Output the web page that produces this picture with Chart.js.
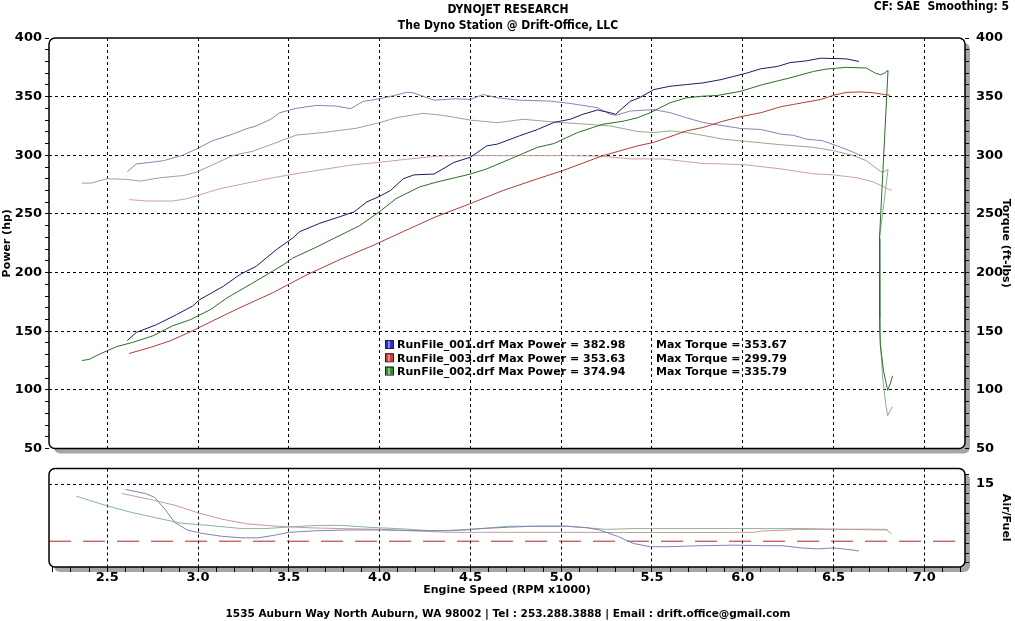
<!DOCTYPE html>
<html>
<head>
<meta charset="utf-8">
<script src="https://cdn.jsdelivr.net/npm/chart.js@4.4.1/dist/chart.umd.min.js"></script>
<style>
  html, body { margin: 0; padding: 0; background: #fff; }
  #wrap { position: relative; width: 1015px; height: 621px; overflow: hidden; }
  #powerChart { position: absolute; left: 0; top: 0; }
  #afrChart { position: absolute; left: 0; top: 455px; }
</style>
</head>
<body>
<div id="wrap">
  <canvas id="powerChart" width="1015" height="462"></canvas>
  <canvas id="afrChart" width="1015" height="166"></canvas>
</div>
<script>
// ---- data (rpm x1000) ----
const runNames = ['RunFile_001.drf', 'RunFile_003.drf', 'RunFile_002.drf'];
const maxPower = [382.98, 353.63, 374.94];
const maxTorque = [353.67, 299.79, 335.79];

const run001PowerRpm = [2.61, 2.66, 2.77, 2.88, 2.97, 3.01, 3.14, 3.23, 3.32, 3.43, 3.52, 3.56, 3.67, 3.78, 3.86, 3.93, 4.00, 4.06, 4.13, 4.19, 4.30, 4.41, 4.50, 4.59, 4.65, 4.77, 4.87, 4.96, 5.05, 5.12, 5.20, 5.27, 5.30, 5.38, 5.43, 5.51, 5.60, 5.69, 5.78, 5.88, 5.93, 6.02, 6.10, 6.19, 6.26, 6.35, 6.43, 6.50, 6.57, 6.64];
const run001Power    = [142, 149, 155.5, 164, 171.5, 177, 188.4, 198.3, 205.3, 219.4, 229.3, 234.9, 242, 247.6, 251.8, 260.3, 265, 270, 280, 283.3, 284, 294, 298.3, 308, 309.6, 316.6, 322, 328, 330.7, 335, 338.6, 336.3, 335, 346, 349, 356, 358.9, 360.3, 361.7, 364.5, 366.5, 370, 373.8, 375.7, 379, 380.5, 382.8, 382.5, 382.2, 380];

const run003PowerRpm = [2.62, 2.74, 2.85, 2.97, 3.08, 3.23, 3.41, 3.60, 3.78, 3.97, 4.13, 4.31, 4.50, 4.68, 4.87, 5.01, 5.23, 5.42, 5.51, 5.69, 5.78, 5.89, 5.99, 6.10, 6.21, 6.28, 6.43, 6.50, 6.57, 6.65, 6.72, 6.78, 6.81];
const run003Power    = [131, 136.3, 142, 150.4, 158.8, 170, 182.7, 198.2, 211, 223.6, 235, 247.6, 258.8, 270, 280, 287, 299.7, 308, 311, 320.8, 323.7, 329, 333, 336.3, 341.4, 343.4, 347.6, 351.2, 353.6, 354, 353.3, 351.8, 351.2];

const run002PowerRpm = [2.36, 2.40, 2.46, 2.55, 2.64, 2.75, 2.86, 2.96, 3.07, 3.16, 3.30, 3.47, 3.52, 3.64, 3.75, 3.89, 4.00, 4.09, 4.22, 4.31, 4.50, 4.59, 4.72, 4.87, 4.96, 5.09, 5.23, 5.34, 5.42, 5.49, 5.60, 5.69, 5.78, 5.86, 5.99, 6.11, 6.26, 6.39, 6.46, 6.57, 6.68, 6.73, 6.76, 6.78, 6.80, 6.753, 6.753, 6.755, 6.757, 6.775, 6.798, 6.812, 6.825];
const run002Power    = [125, 126, 130.6, 136.8, 140.5, 146, 154.6, 160, 168.6, 178.5, 191, 206.7, 212.3, 220.8, 229.3, 240, 252, 263, 273, 277, 284, 288.4, 296.9, 306.8, 310, 319.4, 326.5, 329, 332, 336.3, 344.8, 349, 350.4, 351, 354.6, 360.3, 366, 371.5, 373.5, 375, 374.4, 370, 368.7, 370, 372.4, 229, 184, 161.6, 139, 116.5, 99.6, 105, 112];

const run001TorqueRpm = [2.61, 2.66, 2.74, 2.81, 2.92, 2.99, 3.08, 3.19, 3.27, 3.32, 3.40, 3.45, 3.54, 3.65, 3.76, 3.84, 3.91, 3.98, 4.06, 4.15, 4.18, 4.30, 4.42, 4.50, 4.57, 4.65, 4.77, 4.94, 5.05, 5.20, 5.27, 5.30, 5.38, 5.51, 5.60, 5.69, 5.78, 5.84, 5.99, 6.10, 6.21, 6.28, 6.35, 6.44, 6.52, 6.59, 6.65];
const run001Torque    = [286, 292.6, 294, 295.4, 300.3, 305.3, 312.4, 318, 322.8, 325, 330.7, 336.3, 340, 342.5, 342, 339.7, 346, 347.6, 350.2, 353.7, 353.5, 347, 348.2, 347.6, 351.8, 349, 347, 346.2, 344.2, 340.6, 335, 334, 337.7, 339, 336.3, 332, 328, 326.5, 322.8, 322, 318, 317, 313.8, 312.4, 308, 303.9, 299.7];

const run003TorqueRpm = [2.62, 2.72, 2.86, 2.94, 3.01, 3.12, 3.27, 3.41, 3.56, 3.71, 3.85, 4.00, 4.13, 4.31, 4.50, 4.68, 4.87, 5.05, 5.23, 5.38, 5.56, 5.69, 5.78, 5.89, 6.02, 6.21, 6.39, 6.50, 6.63, 6.72, 6.82];
const run003Torque    = [262.2, 261, 261, 263, 266.4, 271.5, 276.3, 280.8, 284.8, 288.4, 291.8, 294, 296.3, 299.2, 299.7, 299.7, 299.7, 299.7, 299.2, 296.9, 296.9, 294.6, 293, 292.6, 291.8, 288.4, 284.2, 283.3, 280.8, 277.2, 270];

const run002TorqueRpm = [2.36, 2.41, 2.50, 2.61, 2.68, 2.79, 2.92, 2.99, 3.08, 3.19, 3.30, 3.41, 3.54, 3.69, 3.87, 4.00, 4.09, 4.24, 4.35, 4.50, 4.65, 4.79, 4.96, 5.14, 5.27, 5.42, 5.51, 5.60, 5.69, 5.78, 5.89, 6.02, 6.21, 6.39, 6.50, 6.61, 6.68, 6.76, 6.78, 6.80, 6.753, 6.755, 6.770, 6.787, 6.798, 6.823];
const run002Torque    = [276.3, 276.3, 280, 279.4, 278, 280.8, 282.8, 285.6, 291.8, 299.7, 303.4, 309.6, 317.2, 319.4, 323, 327.8, 332, 335.8, 334, 330, 327.8, 330.7, 328.4, 326.5, 325, 320.3, 319.4, 320.8, 319.4, 317, 313.8, 311.8, 309, 306.8, 303.9, 299.7, 295.5, 286, 286, 288, 229, 150, 111, 88.4, 78, 85.5];

const run001AfrRpm = [2.60, 2.71, 2.76, 2.82, 2.87, 2.94, 3.02, 3.13, 3.24, 3.33, 3.42, 3.50, 3.65, 3.83, 4.01, 4.19, 4.38, 4.56, 4.71, 4.85, 5.03, 5.14, 5.21, 5.31, 5.40, 5.49, 5.58, 5.77, 5.95, 6.13, 6.22, 6.32, 6.41, 6.50, 6.59, 6.64];
const run001Afr    = [14.73, 14.52, 14.33, 13.70, 13.06, 12.67, 12.50, 12.35, 12.27, 12.27, 12.40, 12.55, 12.63, 12.67, 12.67, 12.63, 12.63, 12.74, 12.81, 12.86, 12.86, 12.79, 12.67, 12.35, 11.98, 11.82, 11.82, 11.87, 11.90, 11.87, 11.87, 11.76, 11.71, 11.76, 11.67, 11.60];

const run003AfrRpm = [2.58, 2.72, 2.87, 3.00, 3.13, 3.27, 3.42, 3.61, 3.79, 4.01, 4.19, 4.38, 4.56, 4.71, 5.00, 5.40, 5.77, 6.06, 6.11, 6.26, 6.30, 6.50, 6.80];
const run003Afr    = [14.52, 14.25, 13.93, 13.54, 13.22, 12.98, 12.87, 12.78, 12.74, 12.70, 12.63, 12.55, 12.55, 12.55, 12.55, 12.54, 12.54, 12.55, 12.62, 12.67, 12.70, 12.70, 12.67];

const run002AfrRpm = [2.33, 2.50, 2.63, 2.76, 2.91, 3.06, 3.24, 3.37, 3.50, 3.65, 3.79, 3.97, 4.10, 4.29, 4.47, 4.62, 4.71, 4.85, 5.03, 5.14, 5.25, 5.40, 5.58, 5.77, 5.95, 6.13, 6.32, 6.50, 6.68, 6.79, 6.82];
const run002Afr    = [14.38, 13.89, 13.57, 13.30, 13.01, 12.90, 12.74, 12.74, 12.82, 12.90, 12.90, 12.79, 12.74, 12.63, 12.67, 12.79, 12.86, 12.86, 12.86, 12.78, 12.70, 12.74, 12.74, 12.74, 12.74, 12.74, 12.74, 12.71, 12.71, 12.70, 12.46];

const afrTarget = 12.1;

// axes
const rpmMin = 2.179, rpmMax = 7.224;
const rpmLabels = [2.5, 3.0, 3.5, 4.0, 4.5, 5.0, 5.5, 6.0, 6.5, 7.0];
const powerLabels = [50, 100, 150, 200, 250, 300, 350, 400];
const afrMin = 10.79, afrMax = 15.79;
const afrLabels = [15];

const pairs = (xs, ys) => xs.map((x, i) => ({ x: x, y: ys[i] }));
const near = (a, b) => Math.abs(a - b) < 1e-6;
const isLabelRpm = (v) => rpmLabels.some((r) => near(r, v));

// evenly spaced tick positions inside [lo, hi]
function stepTicks(lo, hi, step) {
  const out = [];
  for (let k = Math.ceil(lo / step - 1e-9); k * step <= hi + 1e-9; k++) {
    out.push({ value: Math.round(k * step * 1000) / 1000 });
  }
  return out;
}

Chart.defaults.font.family = '"DejaVu Sans", Verdana, sans-serif';
Chart.defaults.color = '#000';

const tickFont = { family: '"DejaVu Sans", Verdana, sans-serif', size: 13, weight: 'bold', lineHeight: 1 };
const titleFont = { family: '"DejaVu Sans", Verdana, sans-serif', size: 11, weight: 'bold' };

function roundedRect(ctx, x, y, w, h, r) {
  ctx.beginPath();
  ctx.moveTo(x + r, y);
  ctx.lineTo(x + w - r, y);
  ctx.arcTo(x + w, y, x + w, y + r, r);
  ctx.lineTo(x + w, y + h - r);
  ctx.arcTo(x + w, y + h, x + w - r, y + h, r);
  ctx.lineTo(x + r, y + h);
  ctx.arcTo(x, y + h, x, y + h - r, r);
  ctx.lineTo(x, y + r);
  ctx.arcTo(x, y, x + r, y, r);
  ctx.closePath();
}

// white panel with grey drop shadow and rounded black frame
const panelFrame = {
  id: 'panelFrame',
  beforeDraw(chart) {
    const { ctx, chartArea: a } = chart;
    ctx.save();
    ctx.fillStyle = '#a6a6a6';
    roundedRect(ctx, a.left + 5, a.top + 5, a.right - a.left, a.bottom - a.top, 6);
    ctx.fill();
    ctx.fillStyle = '#fff';
    roundedRect(ctx, a.left, a.top, a.right - a.left, a.bottom - a.top, 6);
    ctx.fill();
    ctx.restore();
  },
  afterDraw(chart) {
    const { ctx, chartArea: a } = chart;
    ctx.save();
    ctx.strokeStyle = '#000';
    ctx.lineWidth = 1.5;
    roundedRect(ctx, a.left, a.top, a.right - a.left, a.bottom - a.top, 6);
    ctx.stroke();
    ctx.restore();
  },
};

const headerText = {
  id: 'headerText',
  afterDraw(chart) {
    const ctx = chart.ctx;
    ctx.save();
    ctx.fillStyle = '#000';
    ctx.textBaseline = 'middle';
    ctx.textAlign = 'center';
    ctx.font = 'bold 12px "DejaVu Sans Condensed", "DejaVu Sans", sans-serif';
    ctx.fillText('DYNOJET RESEARCH', 508, 10);
    ctx.fillText('The Dyno Station @ Drift-Office, LLC', 508, 26);
    ctx.textAlign = 'right';
    ctx.fillText('CF: SAE  Smoothing: 5', 1009, 7);

    // legend block
    const boxColors = ['#2b2bd6', '#d83a3a', '#2f8f2f'];
    ctx.textAlign = 'left';
    ctx.font = 'bold 11px "DejaVu Sans", Verdana, sans-serif';
    runNames.forEach((name, i) => {
      const y = 340 + i * 13.3;
      ctx.fillStyle = boxColors[i];
      ctx.fillRect(385, y, 8, 8);
      ctx.fillStyle = 'rgba(255,255,255,0.45)';
      ctx.fillRect(388, y + 1, 2, 7);
      ctx.strokeStyle = '#222';
      ctx.lineWidth = 1;
      ctx.strokeRect(385.5, y + 0.5, 8, 8);
      ctx.fillStyle = '#000';
      ctx.fillText(name + ' Max Power = ' + maxPower[i].toFixed(2), 397, y + 5.5);
      ctx.fillText('Max Torque = ' + maxTorque[i].toFixed(2), 656, y + 5.5);
    });
    ctx.restore();
  },
};

const footerText = {
  id: 'footerText',
  afterDraw(chart) {
    const ctx = chart.ctx;
    ctx.save();
    ctx.fillStyle = '#000';
    ctx.textAlign = 'center';
    ctx.textBaseline = 'middle';
    ctx.font = 'bold 10.5px "DejaVu Sans", Verdana, sans-serif';
    ctx.fillText('1535 Auburn Way North Auburn, WA 98002 | Tel : 253.288.3888 | Email : drift.office@gmail.com', 508, 159);
    ctx.restore();
  },
};

const lineStyle = { pointRadius: 0, borderWidth: 1, tension: 0, fill: false };

new Chart(document.getElementById('powerChart'), {
  type: 'line',
  data: {
    datasets: [
      { ...lineStyle, label: 'Power 001', data: pairs(run001PowerRpm, run001Power), borderColor: '#1b1b62', yAxisID: 'y' },
      { ...lineStyle, label: 'Power 002', data: pairs(run002PowerRpm, run002Power), borderColor: '#2c6e2c', yAxisID: 'y' },
      { ...lineStyle, label: 'Power 003', data: pairs(run003PowerRpm, run003Power), borderColor: '#b23c3c', yAxisID: 'y' },
      { ...lineStyle, label: 'Torque 001', data: pairs(run001TorqueRpm, run001Torque), borderColor: '#8585b5', yAxisID: 'y1' },
      { ...lineStyle, label: 'Torque 002', data: pairs(run002TorqueRpm, run002Torque), borderColor: '#8fab8f', yAxisID: 'y1' },
      { ...lineStyle, label: 'Torque 003', data: pairs(run003TorqueRpm, run003Torque), borderColor: '#c9a2a2', yAxisID: 'y1' },
    ],
  },
  options: {
    responsive: false,
    animation: false,
    events: [],
    layout: { padding: { top: 38, bottom: 10, left: 0, right: 0 } },
    plugins: { legend: { display: false }, tooltip: { enabled: false } },
    scales: {
      x: {
        type: 'linear',
        min: rpmMin,
        max: rpmMax,
        ticks: { display: false },
        afterBuildTicks(scale) { scale.ticks = stepTicks(rpmMin, rpmMax, 0.5); },
        grid: { drawTicks: false, color: '#000', lineWidth: 1 },
        border: { display: false, dash: [3, 3] },
        afterFit(scale) { scale.height = 0; },
      },
      y: {
        position: 'left',
        min: 50,
        max: 400,
        afterBuildTicks(scale) { scale.ticks = stepTicks(50, 400, 10); },
        ticks: {
          autoSkip: false,
          padding: 3,
          font: tickFont,
          callback: (v) => (powerLabels.includes(v) ? String(v) : ''),
        },
        grid: {
          color: (c) => (c.tick && c.tick.value % 50 === 0 && c.tick.value > 50 && c.tick.value < 400 ? '#000' : 'rgba(0,0,0,0)'),
          tickColor: '#000',
          tickLength: 4,
          lineWidth: 1,
        },
        border: { display: false, dash: [3, 3] },
        title: { display: true, text: 'Power (hp)', font: titleFont, padding: { top: 1, bottom: 0 } },
        afterFit(scale) { scale.width = 49; },
      },
      y1: {
        position: 'right',
        min: 50,
        max: 400,
        afterBuildTicks(scale) { scale.ticks = stepTicks(50, 400, 10); },
        ticks: {
          autoSkip: false,
          padding: 7,
          font: tickFont,
          callback: (v) => (powerLabels.includes(v) ? String(v) : ''),
        },
        grid: { drawOnChartArea: false, tickColor: '#000', tickLength: 4, lineWidth: 1 },
        border: { display: false },
        title: { display: true, text: 'Torque (ft-lbs)', font: titleFont, padding: { top: 3, bottom: 0 } },
        afterFit(scale) { scale.width = 50; },
      },
    },
  },
  plugins: [panelFrame, headerText],
});

new Chart(document.getElementById('afrChart'), {
  type: 'line',
  data: {
    datasets: [
      { ...lineStyle, label: 'AFR 001', data: pairs(run001AfrRpm, run001Afr), borderColor: '#7c86b0' },
      { ...lineStyle, label: 'AFR 003', data: pairs(run003AfrRpm, run003Afr), borderColor: '#c99a9a' },
      { ...lineStyle, label: 'AFR 002', data: pairs(run002AfrRpm, run002Afr), borderColor: '#8db39b' },
      {
        ...lineStyle,
        label: 'Target',
        data: [{ x: rpmMin, y: afrTarget }, { x: rpmMax, y: afrTarget }],
        borderColor: '#b02626',
        borderDash: [22, 12],
      },
    ],
  },
  options: {
    responsive: false,
    animation: false,
    events: [],
    layout: { padding: { top: 8, bottom: 24, left: 49, right: 0 } },
    plugins: { legend: { display: false }, tooltip: { enabled: false } },
    scales: {
      x: {
        type: 'linear',
        min: rpmMin,
        max: rpmMax,
        afterBuildTicks(scale) { scale.ticks = stepTicks(rpmMin, rpmMax, 0.1); },
        ticks: {
          autoSkip: false,
          maxRotation: 0,
          padding: -1,
          font: tickFont,
          callback: (v) => (isLabelRpm(v) ? v.toFixed(1) : ''),
        },
        grid: {
          color: (c) => (c.tick && isLabelRpm(c.tick.value) ? '#000' : 'rgba(0,0,0,0)'),
          tickColor: '#000',
          tickLength: 5,
          lineWidth: 1,
        },
        border: { display: false, dash: [3, 3] },
        title: { display: true, text: 'Engine Speed (RPM x1000)', font: titleFont, padding: { top: 0, bottom: 0 } },
        afterFit(scale) { scale.height = 30; },
      },
      y: {
        position: 'right',
        min: afrMin,
        max: afrMax,
        afterBuildTicks(scale) { scale.ticks = stepTicks(afrMin, afrMax, 0.5); },
        ticks: {
          autoSkip: false,
          padding: 7,
          font: tickFont,
          callback: (v) => (afrLabels.some((a) => near(a, v)) ? String(v) : ''),
        },
        grid: {
          color: (c) => (c.tick && afrLabels.some((a) => near(a, c.tick.value)) ? '#000' : 'rgba(0,0,0,0)'),
          tickColor: '#000',
          tickLength: 4,
          lineWidth: 1,
        },
        border: { display: false, dash: [3, 3] },
        title: { display: true, text: 'Air/Fuel', font: titleFont, padding: { top: 3, bottom: 0 } },
        afterFit(scale) { scale.width = 50; },
      },
    },
  },
  plugins: [panelFrame, footerText],
});
</script>
</body>
</html>
